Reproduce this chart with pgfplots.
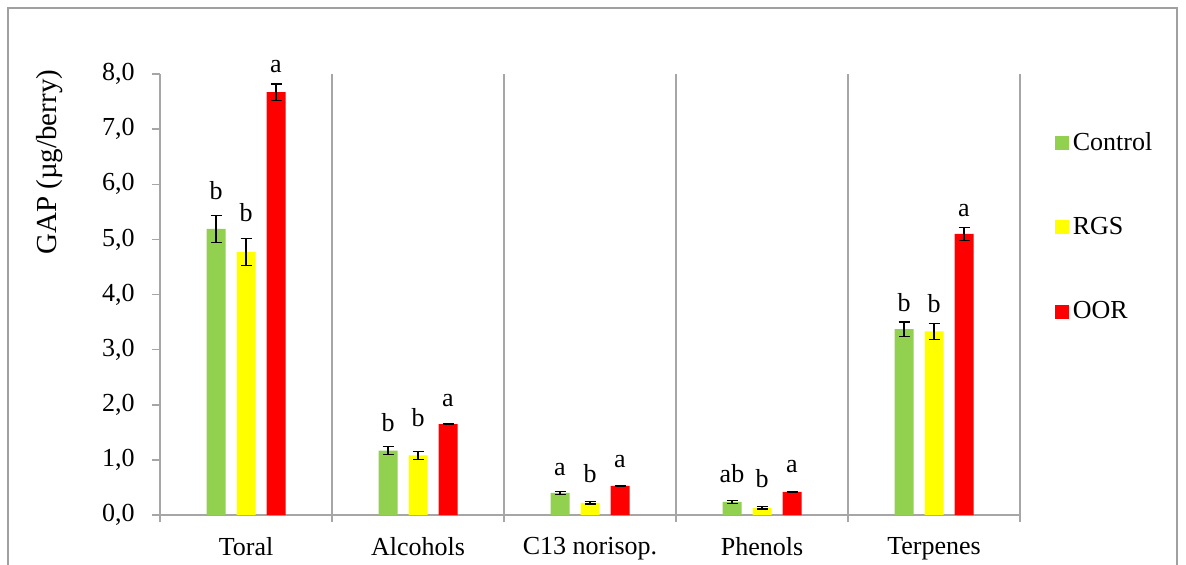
\documentclass[border=0pt]{standalone}
\usepackage{fontspec}
\setmainfont{Liberation Serif}
\usepackage{pgfplots}
\pgfplotsset{compat=1.18}
\usepackage{pgfplotstable}

\definecolor{cgreen}{HTML}{92D050}
\definecolor{cyellow}{HTML}{FFFF00}
\definecolor{cred}{HTML}{FF0000}
\definecolor{axgray}{HTML}{A6A6A6}
\definecolor{frgray}{HTML}{A0A0A0}

% x y err ly lab  (ly = where the letter sits)
\pgfplotstableread{
x y err ly lab
0 5.19 0.25 5.71 b
1 1.17 0.07 1.51 b
2 0.40 0.03 0.71 a
3 0.24 0.03 0.58 ab
4 3.37 0.13 3.68 b
}\control
\pgfplotstableread{
x y err ly lab
0 4.77 0.25 5.32 b
1 1.08 0.07 1.60 b
2 0.22 0.02 0.58 b
3 0.13 0.02 0.49 b
4 3.33 0.15 3.66 b
}\rgs
\pgfplotstableread{
x y err ly lab
0 7.67 0.15 8.02 a
1 1.65 0.01 1.96 a
2 0.53 0.005 0.85 a
3 0.42 0.005 0.76 a
4 5.10 0.12 5.41 a
}\oor

\begin{document}
\begin{tikzpicture}
\path[use as bounding box] (0,0) rectangle (593pt,282pt);
\draw[frgray, line width=0.6pt] (4pt,-2pt) -- (4pt,278pt) -- (588.5pt,278pt) -- (588.5pt,-2pt);
\begin{axis}[
    at={(80pt,24.5pt)}, anchor=south west,
    scale only axis, width=430pt, height=220.5pt,
    font=\fontsize{13}{15}\selectfont,
    ybar=5.5pt, bar width=9.5pt,
    xmin=-0.5, xmax=4.5, ymin=0, ymax=8,
    axis x line=bottom, axis y line=left,
    axis line style={axgray, line width=0.75pt, -},
    xtick={0,1,2,3,4},
    xticklabels={Toral, Alcohols, C13 norisop., Phenols, Terpenes},
    minor xtick={-0.5,0.5,1.5,2.5,3.5,4.5},
    xminorgrids=true,
    minor grid style={axgray, line width=0.75pt},
    major x tick style={draw=none},
    minor x tick style={axgray, line width=0.75pt},
    minor tick length=3.5pt,
    tick align=outside,
    ytick={0,1,...,8},
    y tick style={axgray, line width=0.75pt},
    major tick length=4pt,
    /pgf/number format/assume math mode=true,
    yticklabel style={/pgf/number format/fixed, /pgf/number format/fixed zerofill,
        /pgf/number format/precision=1, /pgf/number format/use comma},
    yticklabel style={anchor=east, inner sep=0pt, xshift=-8.5pt},
    xticklabel style={anchor=north, inner sep=0pt, yshift=-7pt},
    ylabel={GAP (µg/berry)},
    ylabel style={at={(axis description cs:-0.128,0.80)}, anchor=center, font=\fontsize{14.5}{16}\selectfont},
    clip=false,
    error bars/y dir=both, error bars/y explicit,
    error bars/error bar style={black, line width=0.6pt},
    error bars/error mark options={black, rotate=90, mark size=2.75pt, line width=0.6pt},
    point meta=explicit symbolic,
    nodes near coords,
    visualization depends on={(\thisrow{ly}-\thisrow{y})*27.5625 \as \lshift},
    every node near coord/.append style={anchor=south, inner sep=0pt, yshift=\lshift pt, black, font=\fontsize{13}{15}\selectfont},
    legend style={draw=none, fill=none, at={(axis description cs:1.033,0.653)}, anchor=west,
        font=\fontsize{13}{15}\selectfont, row sep=28pt, cells={anchor=west}},
    legend image code/.code={\fill[#1] (0pt,-3.5pt) rectangle (7pt,3.5pt);},
]
\addplot[fill=cgreen, draw=none] table[x=x, y=y, y error=err, meta=lab] {\control};
\addlegendentry{Control}
\addplot[fill=cyellow, draw=none] table[x=x, y=y, y error=err, meta=lab] {\rgs};
\addlegendentry{RGS}
\addplot[fill=cred, draw=none] table[x=x, y=y, y error=err, meta=lab] {\oor};
\addlegendentry{OOR}
\end{axis}
\end{tikzpicture}
\end{document}
